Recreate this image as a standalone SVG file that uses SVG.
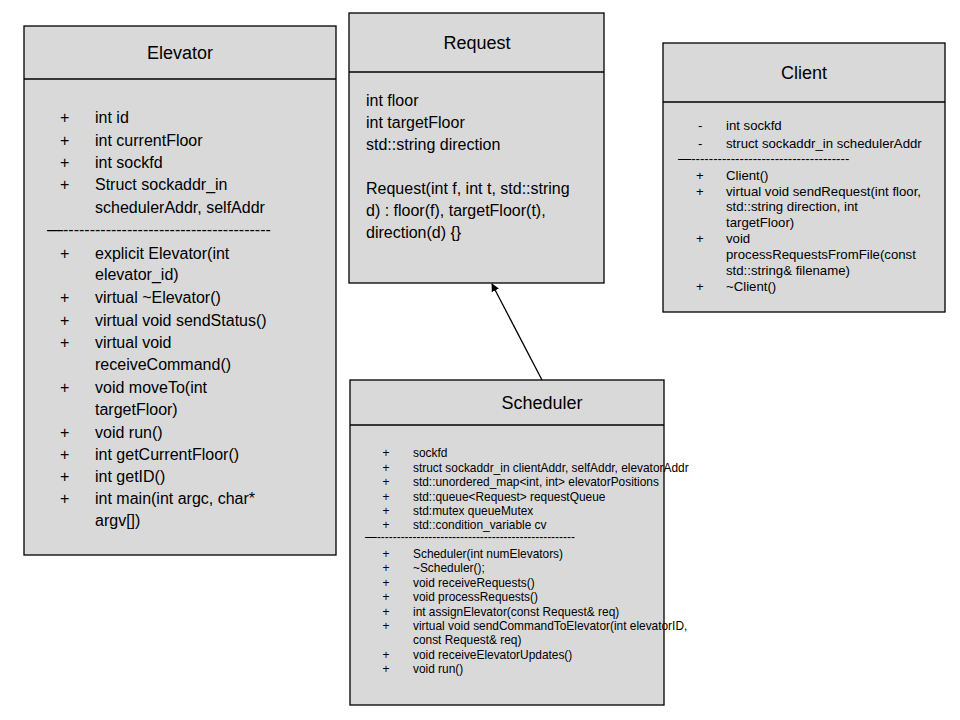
<svg xmlns="http://www.w3.org/2000/svg" width="960" height="720" viewBox="0 0 960 720">
<style>
.box{fill:#d9d9d9;stroke:#000;stroke-width:1.3}
.hl{stroke:#000;stroke-width:1.3}
text{font-family:"Liberation Sans",Arial,sans-serif;fill:#000}
.t{font-size:18px;text-anchor:middle}
.b{font-size:16px}
.s{font-size:11.9px}
.c{font-size:13.2px}
.conn{stroke:#000;stroke-width:1.3;fill:none}
</style>
<defs>
<marker id="ah" viewBox="0 0 10 10" refX="9" refY="5" markerWidth="8" markerHeight="8" markerUnits="userSpaceOnUse" orient="auto">
<path d="M0,0 L10,5 L0,10 z" fill="#000"/>
</marker>
</defs>
<rect width="960" height="720" fill="#fff"/>

<g id="elevator">
<rect class="box" x="24" y="26" width="312" height="529"/>
<line class="hl" x1="24" y1="79" x2="336" y2="79"/>
<text class="t" x="180" y="59">Elevator</text>
<g class="b">
<text x="60" y="123">+</text><text x="95" y="123">int id</text>
<text x="60" y="146">+</text><text x="95" y="146">int currentFloor</text>
<text x="60" y="168">+</text><text x="95" y="168">int sockfd</text>
<text x="60" y="190">+</text><text x="95" y="190">Struct sockaddr_in</text>
<text x="95" y="213">schedulerAddr, selfAddr</text>
<text x="47" y="235">—---------------------------------------</text>
<text x="60" y="259">+</text><text x="95" y="259">explicit Elevator(int</text>
<text x="95" y="280">elevator_id)</text>
<text x="60" y="303">+</text><text x="95" y="303">virtual ~Elevator()</text>
<text x="60" y="326">+</text><text x="95" y="326">virtual void sendStatus()</text>
<text x="60" y="348">+</text><text x="95" y="348">virtual void</text>
<text x="95" y="370">receiveCommand()</text>
<text x="60" y="393">+</text><text x="95" y="393">void moveTo(int</text>
<text x="95" y="415">targetFloor)</text>
<text x="60" y="438">+</text><text x="95" y="438">void run()</text>
<text x="60" y="460">+</text><text x="95" y="460">int getCurrentFloor()</text>
<text x="60" y="482">+</text><text x="95" y="482">int getID()</text>
<text x="60" y="504">+</text><text x="95" y="504">int main(int argc, char*</text>
<text x="95" y="526">argv[])</text>
</g>
</g>

<g id="request">
<rect class="box" x="349" y="13" width="255" height="270"/>
<line class="hl" x1="349" y1="72" x2="604" y2="72"/>
<text class="t" x="477" y="49">Request</text>
<g class="b">
<text x="366" y="106">int floor</text>
<text x="366" y="128">int targetFloor</text>
<text x="366" y="150">std::string direction</text>
<text x="366" y="194">Request(int f, int t, std::string</text>
<text x="366" y="216">d) : floor(f), targetFloor(t),</text>
<text x="366" y="238">direction(d) {}</text>
</g>
</g>

<g id="client">
<rect class="box" x="663" y="43" width="282" height="269"/>
<line class="hl" x1="663" y1="102" x2="945" y2="102"/>
<text class="t" x="804" y="79">Client</text>
<g class="c">
<text x="698" y="130">-</text><text x="726" y="130">int sockfd</text>
<text x="698" y="147.5">-</text><text x="726" y="147.5">struct sockaddr_in schedulerAddr</text>
<text x="678" y="163">—------------------------------------</text>
<text x="696" y="180">+</text><text x="726" y="180">Client()</text>
<text x="696" y="196">+</text><text x="726" y="196">virtual void sendRequest(int floor,</text>
<text x="726" y="211">std::string direction, int</text>
<text x="726" y="227">targetFloor)</text>
<text x="696" y="243">+</text><text x="726" y="243">void</text>
<text x="726" y="258.5">processRequestsFromFile(const</text>
<text x="726" y="274.5">std::string&amp; filename)</text>
<text x="696" y="290.5">+</text><text x="726" y="290.5">~Client()</text>
</g>
</g>

<g id="scheduler">
<rect class="box" x="350" y="380" width="314" height="325"/>
<line class="hl" x1="350" y1="425" x2="664" y2="425"/>
<text class="t" x="542" y="409">Scheduler</text>
<g class="s">
<text x="382.5" y="457">+</text><text x="413" y="457">sockfd</text>
<text x="382.5" y="471.5">+</text><text x="413" y="471.5">struct sockaddr_in clientAddr, selfAddr, elevatorAddr</text>
<text x="382.5" y="486">+</text><text x="413" y="486">std::unordered_map&lt;int, int&gt; elevatorPositions</text>
<text x="382.5" y="500.5">+</text><text x="413" y="500.5">std::queue&lt;Request&gt; requestQueue</text>
<text x="382.5" y="515">+</text><text x="413" y="515">std:mutex queueMutex</text>
<text x="382.5" y="529">+</text><text x="413" y="529">std::condition_variable cv</text>
<text x="365" y="541">—--------------------------------------------------</text>
<text x="382.5" y="557.5">+</text><text x="413" y="557.5">Scheduler(int numElevators)</text>
<text x="382.5" y="572">+</text><text x="413" y="572">~Scheduler();</text>
<text x="382.5" y="586.5">+</text><text x="413" y="586.5">void receiveRequests()</text>
<text x="382.5" y="601">+</text><text x="413" y="601">void processRequests()</text>
<text x="382.5" y="615.5">+</text><text x="413" y="615.5">int assignElevator(const Request&amp; req)</text>
<text x="382.5" y="629.5">+</text><text x="413" y="629.5">virtual void sendCommandToElevator(int elevatorID,</text>
<text x="413" y="644">const Request&amp; req)</text>
<text x="382.5" y="658.5">+</text><text x="413" y="658.5">void receiveElevatorUpdates()</text>
<text x="382.5" y="673">+</text><text x="413" y="673">void run()</text>
</g>
</g>

<g id="connectors">
<line class="conn" x1="542" y1="380" x2="492" y2="284" marker-end="url(#ah)"/>
</g>
</svg>
